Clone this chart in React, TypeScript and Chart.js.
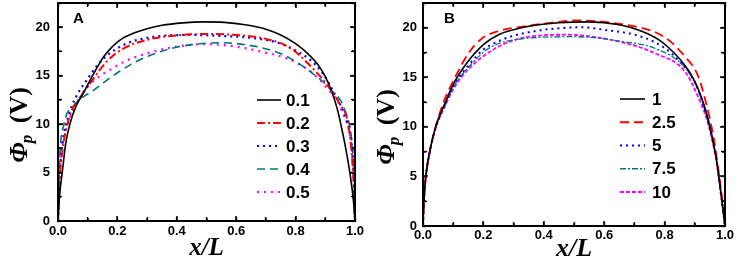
import { useEffect, useRef } from "react";
import { Chart, registerables } from "chart.js";
Chart.register(...registerables);

// ---------- data ----------
const xTicks = [0, 0.1, 0.2, 0.3, 0.4, 0.5, 0.6, 0.7, 0.8, 0.9, 1.0];
const yTicks = [0, 2.5, 5, 7.5, 10, 12.5, 15, 17.5, 20, 22.5];

const labelsA = ["0.1", "0.2", "0.3", "0.4", "0.5"];
const labelsB = ["1", "2.5", "5", "7.5", "10"];

// Panel A
const xA1 = [0, 0.005, 0.015, 0.026, 0.04, 0.06, 0.085, 0.12, 0.14, 0.16, 0.18, 0.2, 0.22, 0.24, 0.26, 0.3, 0.35, 0.42, 0.49, 0.56, 0.63, 0.7, 0.75, 0.8, 0.84, 0.876, 0.9, 0.92, 0.94, 0.955, 0.97, 0.985, 0.995, 1];
const yA1 = [0, 2.5, 5.2, 8.0, 10, 11.8, 13.2, 15.2, 16.3, 17.2, 17.9, 18.45, 18.9, 19.2, 19.45, 19.85, 20.2, 20.45, 20.55, 20.5, 20.25, 19.8, 19.2, 18.3, 17.3, 16.1, 14.9, 13.5, 11.6, 9.6, 7.3, 4.5, 2.0, 0];
const xA2 = [0, 0.005, 0.015, 0.03, 0.045, 0.08, 0.11, 0.165, 0.22, 0.3, 0.38, 0.5, 0.6, 0.7, 0.78, 0.85, 0.91, 0.95, 0.975, 0.99, 0.996, 1];
const yA2 = [0, 4, 7.3, 9.8, 11.3, 13, 14.3, 16.5, 17.8, 18.7, 19.1, 19.3, 19.2, 18.8, 17.9, 16.0, 13.9, 12.0, 10.3, 6.6, 3.5, 0];
const xA3 = [0, 0.005, 0.015, 0.035, 0.057, 0.096, 0.136, 0.17, 0.23, 0.32, 0.45, 0.55, 0.65, 0.74, 0.8, 0.85, 0.89, 0.94, 0.97, 0.99, 0.996, 1];
const yA3 = [0, 4.5, 8, 10.8, 12.6, 14.5, 16.2, 17.2, 18.3, 19.0, 19.2, 19.1, 18.9, 18.4, 17.6, 16.6, 15.3, 12.6, 10.5, 7.6, 4.5, 0];
const xA4 = [0, 0.005, 0.02, 0.05, 0.08, 0.12, 0.15, 0.2, 0.26, 0.32, 0.38, 0.45, 0.55, 0.65, 0.72, 0.77, 0.85, 0.92, 0.965, 0.99, 0.996, 1];
const yA4 = [0, 6, 10, 11.8, 12.7, 13.5, 14.2, 15.3, 16.4, 17.2, 17.8, 18.2, 18.4, 18.1, 17.6, 17.0, 15.4, 13.5, 11.5, 8, 5, 0];
const xA5 = [0, 0.005, 0.015, 0.03, 0.06, 0.09, 0.125, 0.18, 0.22, 0.3, 0.4, 0.5, 0.6, 0.68, 0.77, 0.81, 0.86, 0.9, 0.955, 0.99, 0.996, 1];
const yA5 = [0, 5, 8, 9.8, 12, 13.5, 14.6, 15.7, 16.4, 17.3, 18.0, 18.25, 18.0, 17.5, 16.8, 16.2, 15.2, 13.9, 11.4, 7, 4, 0];

// Panel B
const xB1 = [0, 0.003, 0.009, 0.023, 0.042, 0.073, 0.1, 0.144, 0.2, 0.25, 0.3, 0.35, 0.45, 0.55, 0.65, 0.72, 0.78, 0.83, 0.87, 0.9, 0.925, 0.944, 0.96, 0.972, 0.988, 1];
const yB1 = [0, 2.5, 4.9, 7.6, 10, 12.4, 14.3, 16.4, 18.3, 19.3, 19.8, 20.15, 20.5, 20.6, 20.3, 19.7, 18.8, 17.5, 16.1, 14.6, 12.7, 10.8, 8.6, 6.6, 3.0, 0];
const xB2 = [0, 0.003, 0.009, 0.023, 0.042, 0.067, 0.106, 0.15, 0.194, 0.255, 0.35, 0.45, 0.51, 0.64, 0.72, 0.773, 0.82, 0.867, 0.91, 0.94, 0.96, 0.975, 0.99, 1];
const yB2 = [0, 2.5, 4.9, 7.6, 10, 12.4, 15.0, 17.4, 18.9, 19.7, 20.2, 20.6, 20.75, 20.45, 20.0, 19.5, 18.6, 17.1, 15.2, 12.1, 9.3, 6.4, 2.9, 0];
const xB3 = [0, 0.003, 0.009, 0.023, 0.042, 0.073, 0.1, 0.15, 0.2, 0.24, 0.3, 0.39, 0.45, 0.52, 0.6, 0.7, 0.77, 0.83, 0.9, 0.944, 0.972, 0.988, 1];
const yB3 = [0, 2.5, 4.9, 7.6, 10, 12.3, 14.1, 16.2, 17.8, 18.5, 19.2, 19.75, 19.95, 20.05, 19.8, 19.3, 18.5, 17.2, 14.5, 10.6, 6.6, 2.9, 0];
const xB4 = [0, 0.003, 0.009, 0.023, 0.042, 0.073, 0.1, 0.15, 0.222, 0.333, 0.5, 0.663, 0.77, 0.867, 0.91, 0.944, 0.972, 0.988, 1];
const yB4 = [0, 2.5, 4.9, 7.6, 10, 12.2, 14.0, 16.0, 18.0, 18.9, 19.1, 18.6, 17.9, 16.0, 13.8, 10.5, 6.6, 2.9, 0];
const xB5 = [0, 0.003, 0.009, 0.023, 0.042, 0.073, 0.1, 0.15, 0.238, 0.333, 0.476, 0.663, 0.77, 0.867, 0.91, 0.944, 0.972, 0.988, 1];
const yB5 = [0, 2.5, 4.9, 7.6, 9.9, 12.1, 13.8, 15.8, 17.9, 19.0, 19.3, 18.5, 17.4, 15.6, 13.1, 10.3, 6.5, 2.9, 0];

const seriesA = [[xA1, yA1], [xA2, yA2], [xA3, yA3], [xA4, yA4], [xA5, yA5]];
const seriesB = [[xB1, yB1], [xB2, yB2], [xB3, yB3], [xB4, yB4], [xB5, yB5]];

// ---------- styles ----------
const stylesA = [
  { color: "#000000", dash: [] as number[], width: 1.6 },
  { color: "#ff0000", dash: [8, 3, 2, 3], width: 2 },
  { color: "#0000ff", dash: [2, 4], width: 2.2 },
  { color: "#007777", dash: [8, 5], width: 1.6 },
  { color: "#ff00ff", dash: [2, 5], width: 2.2 },
];
const stylesB = [
  { color: "#000000", dash: [] as number[], width: 1.6 },
  { color: "#ff0000", dash: [9, 5], width: 1.8 },
  { color: "#0000ff", dash: [2, 4], width: 2 },
  { color: "#007777", dash: [6, 2, 2, 2], width: 1.3 },
  { color: "#ff00ff", dash: [4, 2], width: 1.8 },
];

const panelA = {
  letter: "A", leftW: 58, rightPad: 13, topPad: 3, bottomH: 41, yPad: 8, xPad: 3,
  yTitleX: 18, yTitleY: 125, xTitleBase: 255, xTitleSize: 25,
  legX1: 257, legX2: 281, legText: 286, legY0: 100, legStep: 23, letterX: 73, letterY: 23,
};
const panelB = {
  letter: "B", leftW: 55, rightPad: 12, topPad: 3, bottomH: 36, yPad: 6, xPad: 2,
  yTitleX: 17, yTitleY: 127, xTitleBase: 256, xTitleSize: 26,
  legX1: 252, legX2: 277, legText: 284, legY0: 99, legStep: 23.25, letterX: 76, letterY: 23,
};

const SANS = '"Liberation Sans", Arial, sans-serif';
const SERIF = '"Liberation Serif", "Times New Roman", serif';
const TICK_LEN = -4; // negative: tick marks point into the plot

const isMajorX = (v: number) => Math.round(v * 10) % 2 === 0;
const isMajorY = (v: number) => Math.round(v * 10) % 50 === 0;

const decorPlugin = {
  id: "decor",
  afterDraw(chart: any, _args: any, opts: any) {
    const p = opts.panel;
    const ctx = chart.ctx as CanvasRenderingContext2D;
    const a = chart.chartArea;
    const xs = chart.scales.x;
    const ys = chart.scales.y;

    // panel letter
    ctx.save();
    ctx.fillStyle = "#000";
    ctx.font = `bold 15px ${SANS}`;
    ctx.textBaseline = "alphabetic";
    ctx.textAlign = "left";
    ctx.fillText(p.letter, p.letterX, p.letterY);
    ctx.restore();

    // legend
    chart.data.datasets.forEach((ds: any, i: number) => {
      const y = p.legY0 + i * p.legStep;
      ctx.save();
      ctx.strokeStyle = ds.borderColor;
      ctx.lineWidth = ds.borderWidth;
      ctx.setLineDash(ds.borderDash || []);
      ctx.beginPath();
      ctx.moveTo(p.legX1, y);
      ctx.lineTo(p.legX2, y);
      ctx.stroke();
      ctx.restore();
      ctx.save();
      ctx.fillStyle = "#000";
      ctx.font = `bold 17px ${SANS}`;
      ctx.textBaseline = "middle";
      ctx.textAlign = "left";
      ctx.fillText(ds.label, p.legText, y + 1);
      ctx.restore();
    });

    // x title
    ctx.save();
    ctx.fillStyle = "#000";
    ctx.textBaseline = "alphabetic";
    ctx.textAlign = "center";
    ctx.font = `italic bold ${p.xTitleSize}px ${SERIF}`;
    ctx.fillText("x/L", (a.left + a.right) / 2, p.xTitleBase);
    ctx.restore();

    // y title: Φ_p (V)
    ctx.save();
    ctx.fillStyle = "#000";
    ctx.translate(p.yTitleX, p.yTitleY);
    ctx.rotate(-Math.PI / 2);
    ctx.textAlign = "left";
    ctx.textBaseline = "alphabetic";
    const f1 = `italic bold 26px ${SERIF}`;
    const f2 = `italic bold 17px ${SERIF}`;
    const f3 = `bold 26px ${SERIF}`;
    ctx.font = f1; const w1 = ctx.measureText("Φ").width;
    ctx.font = f2; const w2 = ctx.measureText("p").width;
    ctx.font = f3; const w3 = ctx.measureText(" (V)").width;
    let x0 = -(w1 + w2 + w3 + 4) / 2;
    ctx.font = f1; ctx.fillText("Φ", x0, 9); x0 += w1;
    ctx.font = f2; ctx.fillText("p", x0 - 1, 14); x0 += w2 + 4;
    ctx.font = f3; ctx.fillText(" (V)", x0, 9);
    ctx.restore();

    // frame and inward ticks, drawn last as filled strips
    ctx.save();
    ctx.globalCompositeOperation = "source-over";
    ctx.globalAlpha = 1;
    ctx.fillStyle = "rgb(0,0,0)";
    const L = Math.round(a.left), R = Math.round(a.right), T = Math.round(a.top), B = Math.round(a.bottom);
    const bw = 2;
    ctx.fillRect(L - 1, T - 1, R - L + 2, bw);
    ctx.fillRect(L - 1, B - 1, R - L + 2, bw);
    ctx.fillRect(L - 1, T - 1, bw, B - T + 2);
    ctx.fillRect(R - 1, T - 1, bw, B - T + 2);
    for (const v of xTicks) {
      const px = Math.round(xs.getPixelForValue(v));
      const len = isMajorX(v) ? 5 : 3;
      ctx.fillRect(px - 0.75, B - len, 1.5, len);
      ctx.fillRect(px - 0.75, T, 1.5, len);
    }
    for (const v of yTicks) {
      const py = Math.round(ys.getPixelForValue(v));
      const len = isMajorY(v) ? 5 : 3;
      ctx.fillRect(L, py - 0.75, len, 1.5);
      ctx.fillRect(R - len, py - 0.75, len, 1.5);
    }
    ctx.restore();
  },
};

const gridOpts = { display: true, drawOnChartArea: false, drawTicks: true, tickLength: TICK_LEN, tickColor: "#000", tickWidth: 1.3 };
const borderOpts = { display: true, color: "#000", width: 1.5 };

function makeConfig(series: number[][][], labels: string[], styles: any[], panel: any): any {
  return {
    type: "line",
    data: {
      datasets: series.map((s, i) => ({
        label: labels[i],
        data: s[0].map((x, j) => ({ x, y: s[1][j] })),
        borderColor: styles[i].color,
        borderDash: styles[i].dash,
        borderWidth: styles[i].width,
        pointRadius: 0,
        fill: false,
        cubicInterpolationMode: "monotone",
        xAxisID: "x",
        yAxisID: "y",
      })),
    },
    options: {
      animation: false,
      responsive: false,
      devicePixelRatio: 1,
      layout: { padding: { top: panel.topPad, right: panel.rightPad, left: 0, bottom: 0 } },
      plugins: { legend: { display: false }, tooltip: { enabled: false }, decor: { panel } },
      scales: {
        x: {
          type: "linear", position: "bottom", min: 0, max: 1,
          grid: gridOpts, border: borderOpts,
          afterBuildTicks: (s: any) => { s.ticks = xTicks.map((v) => ({ value: v })); },
          afterFit: (s: any) => { s.height = panel.bottomH; s.paddingLeft = 0; s.paddingRight = 0; },
          ticks: {
            padding: panel.xPad - TICK_LEN, color: "#000", maxRotation: 0, autoSkip: false,
            font: { family: SANS, size: 13, weight: "bold" },
            callback: (v: any) => (isMajorX(Number(v)) ? Number(v).toFixed(1) : ""),
          },
        },
        x2: {
          type: "linear", position: "top", min: 0, max: 1,
          grid: gridOpts, border: borderOpts,
          afterBuildTicks: (s: any) => { s.ticks = xTicks.map((v) => ({ value: v })); },
          afterFit: (s: any) => { s.height = 0; s.paddingLeft = 0; s.paddingRight = 0; },
          ticks: { display: false },
        },
        y: {
          type: "linear", position: "left", min: 0, max: 22.5,
          grid: gridOpts, border: borderOpts,
          afterBuildTicks: (s: any) => { s.ticks = yTicks.map((v) => ({ value: v })); },
          afterFit: (s: any) => { s.width = panel.leftW; s.paddingTop = 0; s.paddingBottom = 0; },
          ticks: {
            padding: panel.yPad - TICK_LEN, color: "#000", autoSkip: false,
            font: { family: SANS, size: 13, weight: "bold" },
            callback: (v: any) => (isMajorY(Number(v)) && Number(v) <= 20 ? String(v) : ""),
          },
        },
        y2: {
          type: "linear", position: "right", min: 0, max: 22.5,
          grid: gridOpts, border: borderOpts,
          afterBuildTicks: (s: any) => { s.ticks = yTicks.map((v) => ({ value: v })); },
          afterFit: (s: any) => { s.width = 0; s.paddingTop = 0; s.paddingBottom = 0; },
          ticks: { display: false },
        },
      },
    },
    plugins: [decorPlugin],
  };
}

function Panel(props: { series: number[][][]; labels: string[]; styles: any[]; panel: any; left: number; width: number }) {
  const ref = useRef<HTMLCanvasElement>(null);
  useEffect(() => {
    if (!ref.current) return;
    const chart = new Chart(ref.current, makeConfig(props.series, props.labels, props.styles, props.panel));
    return () => chart.destroy();
  }, []);
  return (
    <div style={{ position: "absolute", left: props.left, top: 0, width: props.width, height: 262 }}>
      <canvas ref={ref} width={props.width} height={262} style={{ display: "block" }} />
    </div>
  );
}

export default function App() {
  return (
    <div style={{ position: "fixed", left: 0, top: 0, width: 737, height: 262, background: "#fff" }}>
      <Panel series={seriesA} labels={labelsA} styles={stylesA} panel={panelA} left={0} width={368} />
      <Panel series={seriesB} labels={labelsB} styles={stylesB} panel={panelB} left={368} width={369} />
    </div>
  );
}
